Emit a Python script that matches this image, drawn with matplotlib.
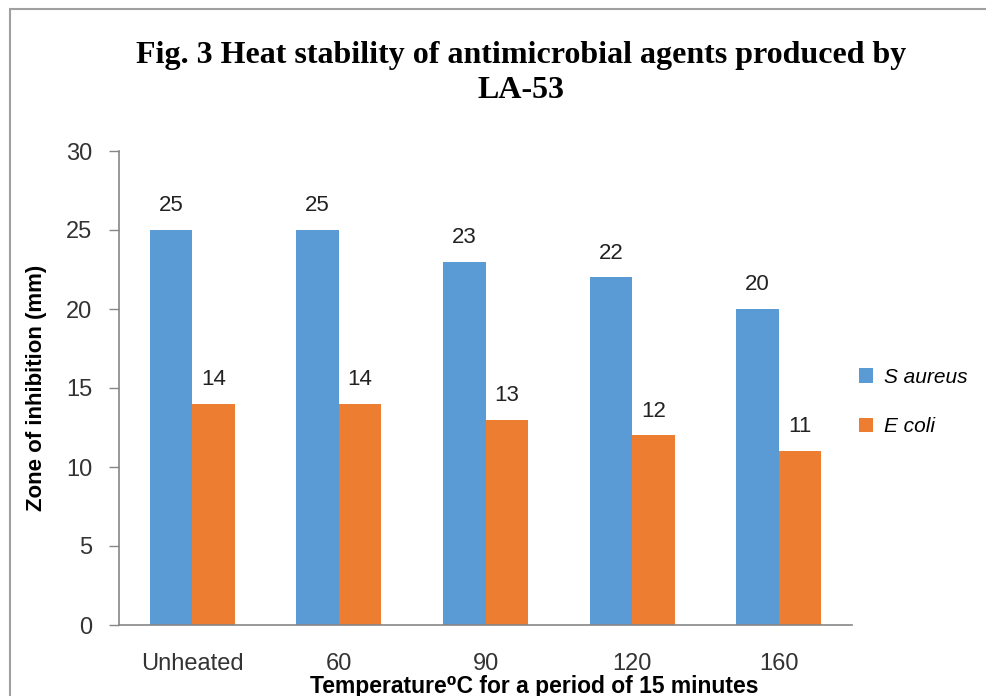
import matplotlib
matplotlib.use("Agg")
import matplotlib.pyplot as plt
import numpy as np
from matplotlib.patches import Rectangle

categories = ["Unheated", "60", "90", "120", "160"]
s_aureus = [25, 25, 23, 22, 20]
e_coli = [14, 14, 13, 12, 11]
series_names = ["S aureus", "E coli"]
colors = ["#5B9BD5", "#ED7D31"]

sans = ["Liberation Sans", "DejaVu Sans"]
plt.rcParams['font.family'] = sans

fig = plt.figure(figsize=(9.86, 6.96), dpi=100)
ax = fig.add_axes([119/986, 1-625/696, (852-119)/986, (625-151)/696])

x = np.arange(len(categories))
w = 0.29
b1 = ax.bar(x - w/2, s_aureus, w, color=colors[0], label=series_names[0])
b2 = ax.bar(x + w/2, e_coli, w, color=colors[1], label=series_names[1])

for bars, vals in ((b1, s_aureus), (b2, e_coli)):
    for r, v in zip(bars, vals):
        ax.annotate(f"{v}", (r.get_x() + r.get_width()/2, v), xytext=(0, 10),
                    textcoords="offset points", ha="center", va="bottom",
                    fontsize=16, color="#222222", family=sans)

ax.set_xlim(-0.5, len(categories) - 0.5)
ax.set_ylim(0, 30)
ax.set_yticks(np.arange(0, 31, 5))
ax.set_xticks(x)
ax.set_xticklabels(categories, fontsize=17, color="#333333")
ax.tick_params(axis='y', labelsize=17, colors="#333333", length=7, width=1, color="#868686", pad=12)
ax.tick_params(axis='x', length=0, pad=20)
for s in ("top", "right"):
    ax.spines[s].set_visible(False)
for s in ("left", "bottom"):
    ax.spines[s].set_color("#868686")
    ax.spines[s].set_linewidth(1.2)

ax.set_ylabel("Zone of inhibition (mm)", fontsize=16, fontweight="bold", labelpad=14, family=sans)
fig.text(534/986, 1-686/696, "Temperature⁰C for a period of 15 minutes",
         ha="center", va="center", fontsize=16.5, fontweight="bold", family=sans)

serif = ["Liberation Serif", "DejaVu Serif"]
fig.text(521/986, 1-55/696, "Fig. 3 Heat stability of antimicrobial agents produced by",
         ha="center", va="center", fontsize=23, fontweight="bold", family=serif)
fig.text(521/986, 1-91/696, "LA-53",
         ha="center", va="center", fontsize=23, fontweight="bold", family=serif)

leg = fig.legend(handles=[b1, b2], labels=series_names, loc="center left",
                 bbox_to_anchor=(840/986, 1-402/696), frameon=False,
                 prop={"size": 15, "style": "italic", "family": sans},
                 handlelength=0.7, handleheight=0.7, labelspacing=1.45, handletextpad=0.5)

fig.patches.append(Rectangle((10/986, -0.1), 1.2, 1 - 9/696 + 0.1, transform=fig.transFigure,
                             fill=False, edgecolor="#A0A0A0", linewidth=1.5))

fig.savefig("out.png", dpi=100)
